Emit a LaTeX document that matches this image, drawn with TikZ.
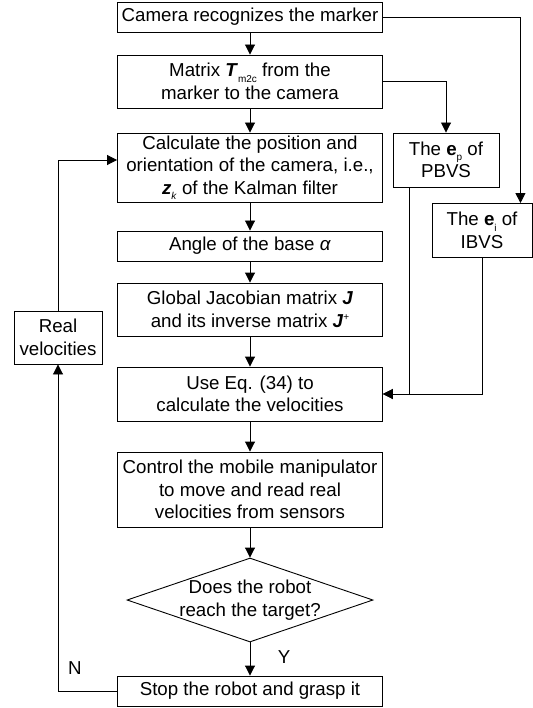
\documentclass[tikz,border=0pt]{standalone}
\usepackage{fontspec}
\setmainfont{Liberation Sans}
\usetikzlibrary{arrows.meta,shapes.geometric}
\newcommand{\lowsub}[1]{\raisebox{-0.55ex}{\fontsize{10}{10}\selectfont #1}}
\newcommand{\highsup}[1]{\raisebox{0.75ex}{\fontsize{10}{10}\selectfont #1}}

\begin{document}
\begin{tikzpicture}[x=1pt,y=-1pt,->,>={Triangle[length=10pt,width=10pt]},
                    line width=0.9pt,font=\fontsize{18.7}{22.5}\selectfont,
                    box/.style={draw,rectangle,minimum width=265pt,align=center,inner sep=0pt},
                    errbox/.style={draw,rectangle,minimum height=54pt,align=center,inner sep=0pt},
                    decision/.style={draw,diamond,minimum width=246pt,minimum height=84pt,inner sep=0pt}]

  \useasboundingbox (0,0) rectangle (532,708);

  \node[box,minimum height=30pt] (cam)    at (250,17)    {Camera recognizes the marker};
  \node[box,minimum height=53pt] (matrix) at (250,81.5)  {Matrix \textbf{\textit{T}}\lowsub{m2c} from the\\marker to the camera};
  \node[box,minimum height=69pt] (calc)   at (250,167.5) {Calculate the position and\\orientation of the camera, i.e.,\\\textbf{\textit{z}}\lowsub{\textit{k}} of the Kalman filter};
  \node[box,minimum height=30pt] (angle)  at (250,246)   {Angle of the base \textit{α}};
  \node[box,minimum height=53pt] (jacob)  at (250,309.5) {Global Jacobian matrix \textbf{\textit{J}}\\and its inverse matrix \textbf{\textit{J}}\highsup{+}};
  \node[box,minimum height=54pt] (useeq)  at (250,394)   {Use Eq. (34) to\\calculate the velocities};
  \node[box,minimum height=75pt] (ctrl)   at (250,489.5) {Control the mobile manipulator\\to move and read real\\velocities from sensors};
  \node[decision]                (check)  at (250,600)   {};
  \node                          (checktxt) at (check.center) [align=center] {Does the robot\\reach the target?};
  \node[box,minimum height=30pt] (stop)   at (250,691)   {Stop the robot and grasp it};

  \node[errbox,minimum width=106pt] (pbvs) at (446,160)   {The \textbf{e}\lowsub{p} of\\PBVS};
  \node[errbox,minimum width=100pt] (ibvs) at (482,230.5) {The \textbf{e}\lowsub{i} of\\IBVS};
  \node[errbox,minimum width=88pt,minimum height=53pt] (real) at (58,337.5) {Real\\velocities};

  \path (cam)    edge (matrix)
        (matrix) edge (calc)
        (calc)   edge (angle)
        (angle)  edge (jacob)
        (jacob)  edge (useeq)
        (useeq)  edge (ctrl)
        (ctrl)   edge (check)
        (check)  edge node[pos=0.45,xshift=34pt] {Y} (stop);

  \draw (cam.east) -| ([xshift=-12pt]ibvs.north east);
  \draw (matrix.east) -| (pbvs.north);
  \draw ([xshift=17pt]pbvs.south west) |- (useeq.east);
  \draw (ibvs.south) |- (useeq.east);
  \draw (stop.west) -| node[pos=0.5,xshift=17pt,yshift=23pt] {N} (real.south);
  \draw (real.north) |- ([yshift=7.5pt]calc.west);
\end{tikzpicture}
\end{document}
